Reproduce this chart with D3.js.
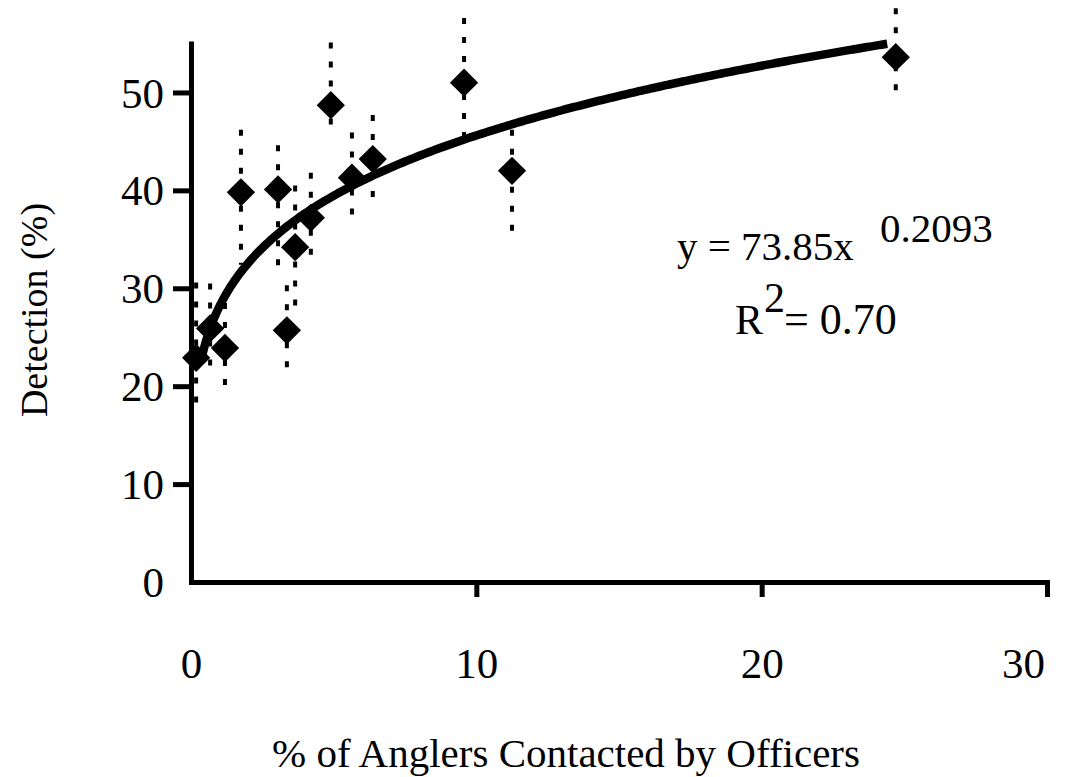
<!DOCTYPE html>
<html><head><meta charset="utf-8">
<script src="https://cdn.jsdelivr.net/npm/d3@7"></script>
<style>
body{margin:0;background:#fff}
text{font-family:"Liberation Serif","Times New Roman",serif;fill:#000}
</style>
</head><body>
<svg id="c" width="1080" height="777"></svg>
<script>
// % of anglers contacted by officers (x) and detection % (y)
const pctContacted = [0.18, 0.67, 1.19, 1.75, 3.05, 3.36, 3.65, 4.2, 4.9, 5.64, 6.37, 9.57, 11.25, 24.7];
const detection   = [22.9, 25.9, 23.9, 39.8, 40.1, 25.7, 34.2, 37.2, 48.7, 41.3, 43.2, 51.0, 42.0, 53.6];
const errHigh     = [30.6, 30.5, 28.5, 46.2, 44.6, 30.3, 40.5, 41.8, 55.1, 45.9, 47.7, 57.6, 46.2, 58.6];
const errLow      = [18.0, 21.7, 19.3, 32.4, 31.7, 21.7, 28.0, 32.7, 46.2, 36.8, 38.8, 44.6, 35.2, 49.2];
const xTicks = [0, 10, 20, 30];
const yTicks = [0, 10, 20, 30, 40, 50];
// power trendline reported on the chart: y = 73.85 x^0.2093 (x as a proportion)
const trendA = 73.85, trendB = 0.2093;
const trendRange = [0.4, 24.4];
const eqMain = "y = 73.85x", eqExp = "0.2093", r2Label = "R", r2Sup = "2", r2Val = "= 0.70";
const xTitle = "% of Anglers Contacted by Officers", yTitle = "Detection (%)";

const svg = d3.select("#c");
const x = d3.scaleLinear().domain([0, 30]).range([191, 1047]);
const y = d3.scaleLinear().domain([0, 55]).range([582, 43.5]);
const TFS = 43;

// axes
const xAxis = d3.axisBottom(x).tickValues(xTicks).tickSizeOuter(0).tickSizeInner(15).tickPadding(50).tickFormat(d3.format("d"));
const gx = svg.append("g").attr("transform", `translate(0,${y(0)})`).call(xAxis);
const yAxis = d3.axisLeft(y).tickValues(yTicks).tickSizeOuter(0).tickSizeInner(18).tickPadding(9).tickFormat(d3.format("d"));
const gy = svg.append("g").attr("transform", `translate(${x(0)},0)`).call(yAxis);
[gx, gy].forEach(g => {
  g.select(".domain").attr("stroke", "#000").attr("stroke-width", 5).attr("stroke-linecap", "square");
  g.selectAll(".tick line").attr("stroke", "#000").attr("stroke-width", 5);
  g.selectAll(".tick").filter(d => d === 0).select("line").remove();
  g.selectAll(".tick text").attr("font-size", TFS).attr("font-family", "Liberation Serif").attr("fill", "#000");
});
gy.selectAll(".tick text").attr("dy", "0.34em");
gx.selectAll(".tick").filter(d => d === 30).select("text").attr("dx", -24);

// error bars
const idx = d3.range(pctContacted.length);
svg.append("g").selectAll("line").data(idx).join("line")
  .attr("x1", i => x(pctContacted[i])).attr("x2", i => x(pctContacted[i]))
  .attr("y1", i => y(errHigh[i])).attr("y2", i => y(errLow[i]))
  .attr("stroke", "#000").attr("stroke-width", 4).attr("stroke-dasharray", "6 13");

// trend curve
const trendX = d3.range(trendRange[0], trendRange[1] + 1e-9, 0.1);
const line = d3.line().x(d => x(d)).y(d => y(trendA * Math.pow(d / 100, trendB)));
svg.append("path").datum(trendX).attr("d", line)
  .attr("fill", "none").attr("stroke", "#000").attr("stroke-width", 8.5).attr("stroke-linejoin", "round");

// diamonds
const sym = d3.symbol(d3.symbolSquare, 400);
svg.append("g").selectAll("path").data(idx).join("path")
  .attr("d", sym)
  .attr("transform", i => `translate(${x(pctContacted[i])},${y(detection[i])}) rotate(45)`)
  .attr("fill", "#000");

// equation
const EFS = 41;
svg.append("text").attr("x", 677).attr("y", 260).attr("font-size", EFS).text(eqMain);
svg.append("text").attr("x", 880).attr("y", 242).attr("font-size", EFS).text(eqExp);
svg.append("text").attr("x", 735).attr("y", 334).attr("font-size", EFS + 1).text(r2Label);
svg.append("text").attr("x", 764).attr("y", 312).attr("font-size", EFS + 1).text(r2Sup);
svg.append("text").attr("x", 784).attr("y", 334).attr("font-size", EFS + 3).text(r2Val);

// titles
svg.append("text").attr("x", 566).attr("y", 767).attr("text-anchor", "middle").attr("font-size", 41).text(xTitle);
svg.append("text").attr("transform", "translate(47,310) rotate(-90)").attr("text-anchor", "middle").attr("font-size", 38).text(yTitle);
</script>
</body></html>
